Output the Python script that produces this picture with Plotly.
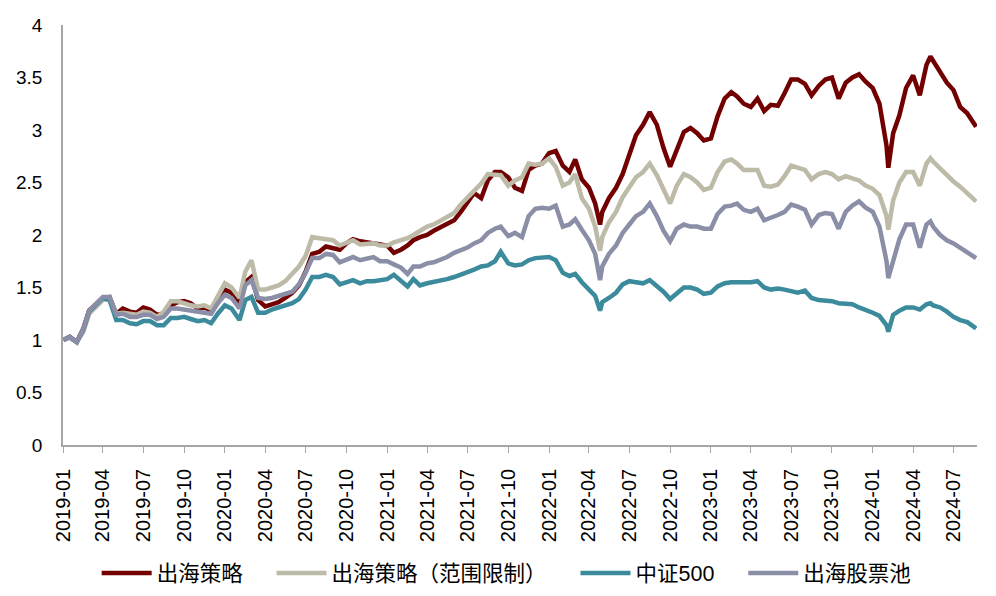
import plotly.graph_objects as go

dates = [
    "2019-01-02", "2019-01-16", "2019-02-01", "2019-02-16", "2019-03-01", "2019-03-16",
    "2019-04-01", "2019-04-16", "2019-05-01", "2019-05-16", "2019-06-01", "2019-06-16",
    "2019-07-01", "2019-07-16", "2019-08-01", "2019-08-16", "2019-09-01", "2019-09-16",
    "2019-10-01", "2019-10-16", "2019-11-01", "2019-11-16", "2019-12-01", "2019-12-16",
    "2020-01-01", "2020-01-16", "2020-02-03", "2020-02-16", "2020-03-01", "2020-03-16",
    "2020-04-01", "2020-04-16", "2020-05-01", "2020-05-16", "2020-06-01", "2020-06-16",
    "2020-07-01", "2020-07-16", "2020-08-01", "2020-08-16", "2020-09-01", "2020-09-16",
    "2020-10-01", "2020-10-16", "2020-11-01", "2020-11-16", "2020-12-01", "2020-12-16",
    "2021-01-01", "2021-01-16", "2021-02-01", "2021-02-16", "2021-03-01", "2021-03-16",
    "2021-04-01", "2021-04-16", "2021-05-01", "2021-05-16", "2021-06-01", "2021-06-16",
    "2021-07-01", "2021-07-16", "2021-08-01", "2021-08-16", "2021-09-01", "2021-09-14",
    "2021-10-01", "2021-10-16", "2021-11-01", "2021-11-16", "2021-12-01", "2021-12-16",
    "2022-01-01", "2022-01-16", "2022-02-01", "2022-02-16", "2022-03-01", "2022-03-16",
    "2022-04-01", "2022-04-15", "2022-04-26", "2022-05-01", "2022-05-16", "2022-06-01",
    "2022-06-16", "2022-07-01", "2022-07-16", "2022-08-01", "2022-08-16", "2022-09-01",
    "2022-09-16", "2022-10-01", "2022-10-16", "2022-11-01", "2022-11-16", "2022-12-01",
    "2022-12-16", "2023-01-01", "2023-01-16", "2023-02-01", "2023-02-16", "2023-03-01",
    "2023-03-16", "2023-04-01", "2023-04-16", "2023-05-01", "2023-05-16", "2023-06-01",
    "2023-06-16", "2023-07-01", "2023-07-16", "2023-08-01", "2023-08-16", "2023-09-01",
    "2023-09-16", "2023-10-01", "2023-10-16", "2023-11-01", "2023-11-16", "2023-12-01",
    "2023-12-16", "2024-01-01", "2024-01-16", "2024-02-01", "2024-02-05", "2024-02-16",
    "2024-03-01", "2024-03-16", "2024-04-01", "2024-04-16", "2024-05-01", "2024-05-10",
    "2024-05-16", "2024-06-01", "2024-06-16", "2024-07-01", "2024-07-16", "2024-08-01",
    "2024-08-21",
]

strategy = [
    1.00, 1.03, 0.98, 1.11, 1.28, 1.34, 1.40, 1.41, 1.25, 1.30, 1.27, 1.26,
    1.31, 1.29, 1.24, 1.25, 1.33, 1.36, 1.37, 1.35, 1.30, 1.31, 1.28, 1.38,
    1.48, 1.45, 1.34, 1.55, 1.60, 1.38, 1.32, 1.34, 1.36, 1.40, 1.45, 1.52,
    1.65, 1.82, 1.84, 1.89, 1.88, 1.86, 1.92, 1.96, 1.94, 1.93, 1.93, 1.92,
    1.90, 1.83, 1.86, 1.90, 1.95, 1.98, 2.00, 2.04, 2.07, 2.10, 2.14, 2.22,
    2.32, 2.40, 2.35, 2.52, 2.60, 2.60, 2.55, 2.45, 2.42, 2.62, 2.66, 2.68,
    2.78, 2.80, 2.66, 2.60, 2.72, 2.53, 2.45, 2.30, 2.10, 2.22, 2.35, 2.45,
    2.58, 2.78, 2.95, 3.05, 3.17, 3.05, 2.83, 2.65, 2.80, 2.98, 3.02, 2.97,
    2.90, 2.92, 3.13, 3.30, 3.36, 3.32, 3.25, 3.22, 3.30, 3.18, 3.24, 3.23,
    3.35, 3.48, 3.48, 3.44, 3.33, 3.42, 3.48, 3.50, 3.30, 3.45, 3.50, 3.53,
    3.46, 3.40, 3.25, 2.85, 2.64, 2.97, 3.14, 3.40, 3.52, 3.33, 3.62, 3.70,
    3.66, 3.55, 3.45, 3.38, 3.22, 3.16, 3.03,
]

strategy_limited = [
    1.00, 1.02, 0.98, 1.08, 1.25, 1.31, 1.38, 1.40, 1.25, 1.26, 1.25, 1.24,
    1.27, 1.26, 1.22, 1.27, 1.37, 1.37, 1.35, 1.33, 1.32, 1.33, 1.30, 1.42,
    1.54, 1.50, 1.40, 1.65, 1.76, 1.48, 1.48, 1.50, 1.52, 1.56, 1.63, 1.70,
    1.80, 1.98, 1.97, 1.96, 1.95, 1.90, 1.92, 1.95, 1.91, 1.91, 1.92, 1.90,
    1.90, 1.93, 1.95, 1.97, 2.00, 2.04, 2.08, 2.10, 2.14, 2.17, 2.21, 2.29,
    2.36, 2.43, 2.49, 2.58, 2.58, 2.57, 2.47, 2.52, 2.55, 2.68, 2.67, 2.68,
    2.73, 2.65, 2.47, 2.50, 2.58, 2.35, 2.25, 2.08, 1.85, 1.98, 2.12, 2.22,
    2.36, 2.45, 2.55, 2.60, 2.68, 2.57, 2.44, 2.30, 2.47, 2.58, 2.55, 2.50,
    2.43, 2.45, 2.60, 2.70, 2.72, 2.68, 2.62, 2.62, 2.62, 2.47, 2.46, 2.48,
    2.56, 2.66, 2.64, 2.62, 2.53, 2.58, 2.60, 2.58, 2.53, 2.56, 2.54, 2.52,
    2.47, 2.44, 2.38, 2.18, 2.05, 2.33, 2.50, 2.60, 2.60, 2.47, 2.68, 2.73,
    2.70, 2.63, 2.57, 2.51, 2.46, 2.40, 2.32,
]

csi500 = [
    1.00, 1.03, 0.98, 1.10, 1.27, 1.33, 1.40, 1.38, 1.19, 1.19, 1.16, 1.15,
    1.18, 1.18, 1.14, 1.14, 1.21, 1.21, 1.22, 1.20, 1.18, 1.19, 1.16, 1.25,
    1.33, 1.30, 1.19, 1.38, 1.41, 1.26, 1.26, 1.29, 1.31, 1.33, 1.35, 1.39,
    1.48, 1.60, 1.60, 1.62, 1.60, 1.53, 1.55, 1.57, 1.54, 1.56, 1.56, 1.57,
    1.58, 1.62, 1.56, 1.51, 1.58, 1.52, 1.54, 1.55, 1.57, 1.58, 1.60, 1.62,
    1.65, 1.67, 1.70, 1.71, 1.75, 1.84, 1.73, 1.71, 1.72, 1.76, 1.78, 1.79,
    1.79, 1.76, 1.64, 1.61, 1.63, 1.55, 1.48, 1.42, 1.28, 1.36, 1.40, 1.45,
    1.53, 1.56, 1.55, 1.54, 1.57, 1.52, 1.46, 1.39, 1.44, 1.50, 1.50, 1.48,
    1.44, 1.45, 1.51, 1.54, 1.55, 1.55, 1.54, 1.55, 1.56, 1.50, 1.48, 1.49,
    1.48, 1.46, 1.45, 1.47, 1.40, 1.38, 1.38, 1.37, 1.35, 1.35, 1.34, 1.31,
    1.29, 1.26, 1.23, 1.14, 1.08, 1.24, 1.28, 1.31, 1.31, 1.29, 1.34, 1.35,
    1.33, 1.31, 1.27, 1.22, 1.19, 1.17, 1.11,
]

stock_pool = [
    1.00, 1.03, 0.98, 1.11, 1.28, 1.35, 1.41, 1.41, 1.24, 1.25, 1.22, 1.22,
    1.24, 1.24, 1.20, 1.22, 1.30, 1.30, 1.29, 1.28, 1.27, 1.27, 1.25, 1.35,
    1.43, 1.40, 1.30, 1.52, 1.57, 1.40, 1.39, 1.40, 1.42, 1.44, 1.46, 1.53,
    1.64, 1.78, 1.78, 1.82, 1.81, 1.74, 1.77, 1.79, 1.76, 1.78, 1.79, 1.75,
    1.75, 1.72, 1.69, 1.63, 1.70, 1.70, 1.73, 1.74, 1.76, 1.79, 1.83, 1.85,
    1.88, 1.92, 1.95, 2.02, 2.06, 2.08, 1.99, 2.02, 1.98, 2.18, 2.25, 2.26,
    2.25, 2.28, 2.08, 2.10, 2.15, 2.05, 1.95, 1.82, 1.57, 1.70, 1.82, 1.90,
    2.02, 2.10, 2.18, 2.22, 2.30, 2.18, 2.04, 1.94, 2.06, 2.10, 2.08, 2.08,
    2.06, 2.06, 2.20, 2.27, 2.28, 2.30, 2.24, 2.22, 2.25, 2.14, 2.16, 2.19,
    2.22, 2.29, 2.27, 2.24, 2.10, 2.19, 2.21, 2.20, 2.06, 2.22, 2.28, 2.32,
    2.26, 2.22, 2.08, 1.75, 1.59, 1.76, 1.96, 2.10, 2.10, 1.88, 2.10, 2.13,
    2.08, 2.00, 1.95, 1.92, 1.88, 1.83, 1.78,
]

series_names = ["出海策略", "出海策略（范围限制）", "中证500", "出海股票池"]
series_values = [strategy, strategy_limited, csi500, stock_pool]
series_colors = ["#720000", "#BDBAA7", "#3C8B9C", "#8A8EA7"]

FONT = "Liberation Sans, Arial, Noto Sans CJK SC, sans-serif"
PAD = "\u00a0" * 4  # extra gap after each legend entry

fig = go.Figure()
for name, vals, col in zip(series_names, series_values, series_colors):
    fig.add_trace(go.Scatter(
        x=dates, y=vals, name=name + PAD, mode="lines",
        line=dict(color=col, width=4.5),
    ))

# page body has an 8px margin, so the figure is sized/placed to land on the
# same pixels as the 996x596 reference
fig.update_layout(
    width=980, height=580,
    margin=dict(l=55, r=11, t=17, b=143, autoexpand=False),
    paper_bgcolor="white", plot_bgcolor="white",
    font=dict(family=FONT, size=19, color="black"),
    showlegend=True,
    legend=dict(
        orientation="h", x=0.498, xanchor="center", y=-0.305, yanchor="middle",
        font=dict(family=FONT, size=21.5, color="black"),
        itemwidth=50, traceorder="normal",
    ),
)

fig.update_xaxes(
    type="date",
    range=["2019-01-01", "2024-08-23"],
    tick0="2019-01-01", dtick="M3", tickformat="%Y-%m",
    tickangle=-90,
    ticks="outside", ticklen=6, tickcolor="#A6A6A6", tickwidth=1,
    showline=True, linecolor="#A6A6A6", linewidth=1.5,
    showgrid=False, zeroline=False, automargin=False,
    tickfont=dict(family=FONT, size=20, color="black"),
    ticklabelstandoff=8,
)
fig.update_yaxes(
    range=[0, 4], dtick=0.5, tick0=0,
    showline=True, linecolor="#A6A6A6", linewidth=1.5,
    ticks="", showgrid=False, zeroline=False, automargin=False,
    tickfont=dict(family=FONT, size=19, color="black"),
    ticklabelstandoff=15,
)

fig.write_html("out.html")
